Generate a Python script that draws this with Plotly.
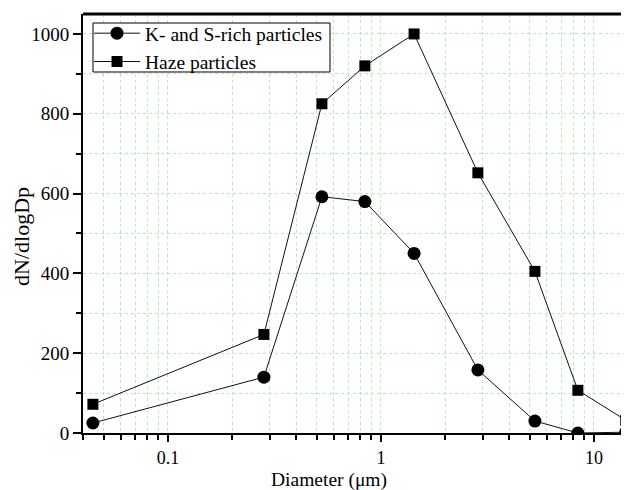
import plotly.graph_objects as go
import numpy as np

# Data
diameter_um = [0.0444, 0.282, 0.528, 0.84, 1.43, 2.85, 5.28, 8.4, 14.1]
k_s_rich = [25, 140, 592, 580, 450, 158, 30, 0, 2]
haze = [72, 247, 825, 920, 1000, 652, 405, 107, 32]

x_major_ticks = [0.1, 1, 10]
x_major_labels = ["0.1", "1", "10"]
x_minor_ticks = [m * 10.0 ** e for e in (-2, -1, 0, 1) for m in range(2, 10)]
y_major_ticks = [0, 200, 400, 600, 800, 1000]
y_minor_ticks = [100, 300, 500, 700, 900]

FONT = "Liberation Serif, Times New Roman, serif"
GRID = "#b5ebb5"

fig = go.Figure()
fig.add_trace(go.Scatter(
    x=diameter_um, y=k_s_rich, name="K- and S-rich particles",
    mode="lines+markers",
    line=dict(color="#111111", width=1),
    marker=dict(symbol="circle", size=13, color="black"),
    cliponaxis=True,
))
fig.add_trace(go.Scatter(
    x=diameter_um, y=haze, name="Haze particles",
    mode="lines+markers",
    line=dict(color="#111111", width=1),
    marker=dict(symbol="square", size=11, color="black"),
    cliponaxis=True,
))

# page body has an 8px margin: figure drawn at (8, 8)
fig.update_layout(
    width=621, height=482,
    margin=dict(l=75, r=0, t=6, b=57),
    paper_bgcolor="white", plot_bgcolor="white",
    font=dict(family=FONT, size=19, color="black"),
    showlegend=True,
    legend=dict(
        x=0.011, y=1.0, xanchor="left", yanchor="top",
        borderwidth=0, bgcolor="rgba(0,0,0,0)",
        font=dict(family=FONT, size=19.5, color="black"),
        tracegroupgap=0, itemwidth=46,
    ),
)

fig.update_xaxes(
    type="log",
    range=[np.log10(0.0399), np.log10(14.6)],
    tickvals=x_major_ticks, ticktext=x_major_labels,
    ticks="outside", ticklen=7, tickwidth=1.5, tickcolor="black",
    showline=True, linecolor="black", linewidth=2,
    showgrid=True, gridcolor=GRID, griddash="dot", gridwidth=1,
    minor=dict(tickvals=x_minor_ticks, ticks="outside", ticklen=5,
               tickwidth=1.5, tickcolor="black",
               showgrid=True, gridcolor=GRID, griddash="dot", gridwidth=1),
    zeroline=False,
    tickfont=dict(family=FONT, size=18),
)
fig.update_yaxes(
    range=[0, 1050],
    tickvals=y_major_ticks,
    ticks="outside", ticklen=8, tickwidth=1.5, tickcolor="black",
    showline=True, linecolor="black", linewidth=2,
    showgrid=True, gridcolor=GRID, griddash="dot", gridwidth=1,
    minor=dict(tickvals=y_minor_ticks, ticks="outside", ticklen=5,
               tickwidth=1.5, tickcolor="black",
               showgrid=True, gridcolor=GRID, griddash="dot", gridwidth=1),
    zeroline=False,
    tickfont=dict(family=FONT, size=19),
)

# axis titles
fig.add_annotation(text="Diameter (μm)", xref="paper", yref="paper",
                   x=0.4505, y=-0.111, xanchor="center", yanchor="middle",
                   showarrow=False, font=dict(family=FONT, size=19.5))
fig.add_annotation(text="dN/dlogDp", xref="paper", yref="paper",
                   x=-0.1117, y=0.468, xanchor="center", yanchor="middle",
                   textangle=-90, showarrow=False, font=dict(family=FONT, size=22))

# legend frame (white box with black border)
fig.add_shape(type="rect", xref="paper", yref="paper",
              x0=0.0183, x1=0.4524, y0=0.8616, y1=0.9785,
              line=dict(color="black", width=1), fillcolor="white", layer="above")

# top frame line
fig.add_shape(type="line", xref="paper", yref="paper", x0=0, x1=1, y0=1, y1=1,
              line=dict(color="black", width=3))

fig.write_html("out.html")
